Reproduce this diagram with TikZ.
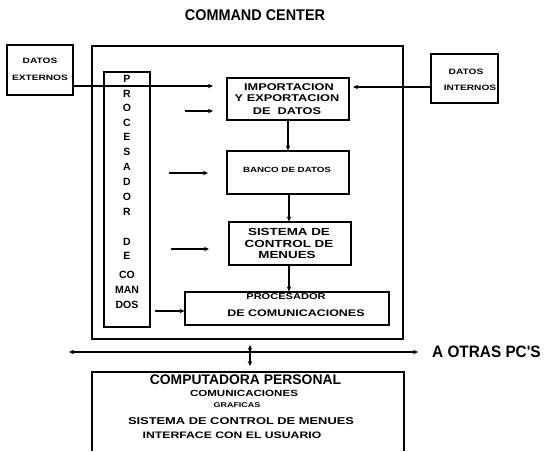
\documentclass[tikz,border=0pt]{standalone}
\usepackage{fontspec}
\setmainfont{Liberation Sans}
\newfontfamily\widef[FakeStretch=1.3]{Liberation Sans}
\newfontfamily\narrowf[FakeStretch=0.93]{Liberation Sans}
\usetikzlibrary{arrows.meta}
\tikzset{
  boxline/.style={draw, line width=1.2pt},
  box/.style={boxline, inner sep=0pt, minimum width=#1},
  arr/.style={-{Stealth[length=5pt,width=4.5pt]}, line width=1.1pt},
  darr/.style={{Stealth[length=5pt,width=4.5pt]}-{Stealth[length=5pt,width=4.5pt]}, line width=1.1pt},
  wtxt/.style={font={\widef\bfseries\fontsize{#1}{#1}\selectfont}, inner sep=0pt},
  btxt/.style={font={\bfseries\fontsize{#1}{#1}\selectfont}, inner sep=0pt},
  ntxt/.style={font={\narrowf\bfseries\fontsize{#1}{#1}\selectfont}, inner sep=0pt},
}
\begin{document}
\begin{tikzpicture}[x=1pt,y=-1pt]
\useasboundingbox (0,0) rectangle (544,451);

% title
\node[ntxt=15.5] (title) at (255,15.5) {COMMAND CENTER};

% boxes
\node[box=66pt, minimum height=50pt] (dext) at (40,70) {};
\node[box=311pt, minimum height=293pt] (outer) at (247.5,192.5) {};
\node[box=46pt, minimum height=255pt] (proc) at (127,199.5) {};
\node[box=122pt, minimum height=42pt] (imp) at (288,99) {};
\node[box=122pt, minimum height=43pt] (banco) at (288,172.5) {};
\node[box=122pt, minimum height=43pt] (sist) at (290,243.5) {};
\node[box=204pt, minimum height=33pt] (pcom) at (287,308.5) {};
\node[box=67pt, minimum height=49pt] (dint) at (464.5,78.5) {};

% personal computer box (open at the bottom)
\coordinate (pcbl) at (92,451);
\coordinate (pctl) at (92,372);
\coordinate (pctr) at (404,372);
\coordinate (pcbr) at (404,451);
\draw[boxline] (pcbl) -- (pctl) -- (pctr) -- (pcbr);

% box texts
\node[wtxt=7.8] (dext1) at (40,61) {DATOS};
\node[wtxt=7.8] (dext2) at (40,78) {EXTERNOS};
\node[wtxt=7.8] (dint1) at (466,72) {DATOS};
\node[wtxt=7.8] (dint2) at (470,88) {INTERNOS};

\node[wtxt=9.8] (imp1) at (289,87) {IMPORTACION};
\node[wtxt=9.8] (imp2) at (287,98.5) {Y EXPORTACION};
\node[wtxt=9.8] (imp3) at (287,111) {DE\ \ DATOS};

\node[wtxt=7.5] (banco1) at (287,170) {BANCO DE DATOS};

\node[wtxt=10.3] (sist1) at (289,232) {SISTEMA DE};
\node[wtxt=10.3] (sist2) at (289,243.5) {CONTROL DE};
\node[wtxt=10.3] (sist3) at (287,255) {MENUES};

\node[wtxt=8.5] (pcom1) at (286,297) {PROCESADOR};
\node[wtxt=9.6] (pcom2) at (296,313) {DE COMUNICACIONES};

% vertical letters
\foreach \t/\yy [count=\i] in {P/79,R/94,O/108,C/123,E/137,S/152,A/167,D/182,O/197,R/212,D/242,E/256,CO/275,MAN/290,DOS/305}
  \node[btxt=10.5] (pl\i) at (127,\yy) {\t};

% PC texts
\node[btxt=13.9] (pc1) at (245.5,380) {COMPUTADORA PERSONAL};
\node[wtxt=8.9] (pc2) at (244,393) {COMUNICACIONES};
\node[wtxt=6.9] (pc3) at (237,405) {GRAFICAS};
\node[wtxt=9.9] (pc4) at (241,421) {SISTEMA DE CONTROL DE MENUES};
\node[wtxt=9.4] (pc5) at (232,435) {INTERFACE CON EL USUARIO};

% connectors
\coordinate (aext) at (213,86);
\draw[arr] (dext.east |- aext) -- (aext);
\coordinate (aint) at (353,87);
\draw[arr] (dint.west |- aint) -- (aint);

\draw[arr] (imp.south) -- (banco.north);
\draw[arr] (banco.south -| 289,0) -- (sist.north -| 289,0);
\draw[arr] (sist.south -| 289,0) -- (pcom.north -| 289,0);

\coordinate (s1a) at (185,111); \coordinate (s1b) at (213,111);
\coordinate (s2a) at (169,173); \coordinate (s2b) at (208,173);
\coordinate (s3a) at (171,249); \coordinate (s3b) at (209,249);
\coordinate (s4a) at (155,311); \coordinate (s4b) at (181,311);
\draw[arr] (s1a) -- (s1b);
\draw[arr] (s2a) -- (s2b);
\draw[arr] (s3a) -- (s3b);
\draw[arr] (s4a) -- (pcom.west |- s4b);

% network line
\coordinate (h1) at (69,352); \coordinate (h2) at (418,352);
\draw[darr] (h1) -- (h2);
\node[ntxt=16.5, anchor=west] (otras) at (432,352) {A OTRAS PC'S};
\coordinate (v1) at (250,345); \coordinate (v2) at (250,366);
\draw[darr] (v1) -- (v2);
\end{tikzpicture}
\end{document}
